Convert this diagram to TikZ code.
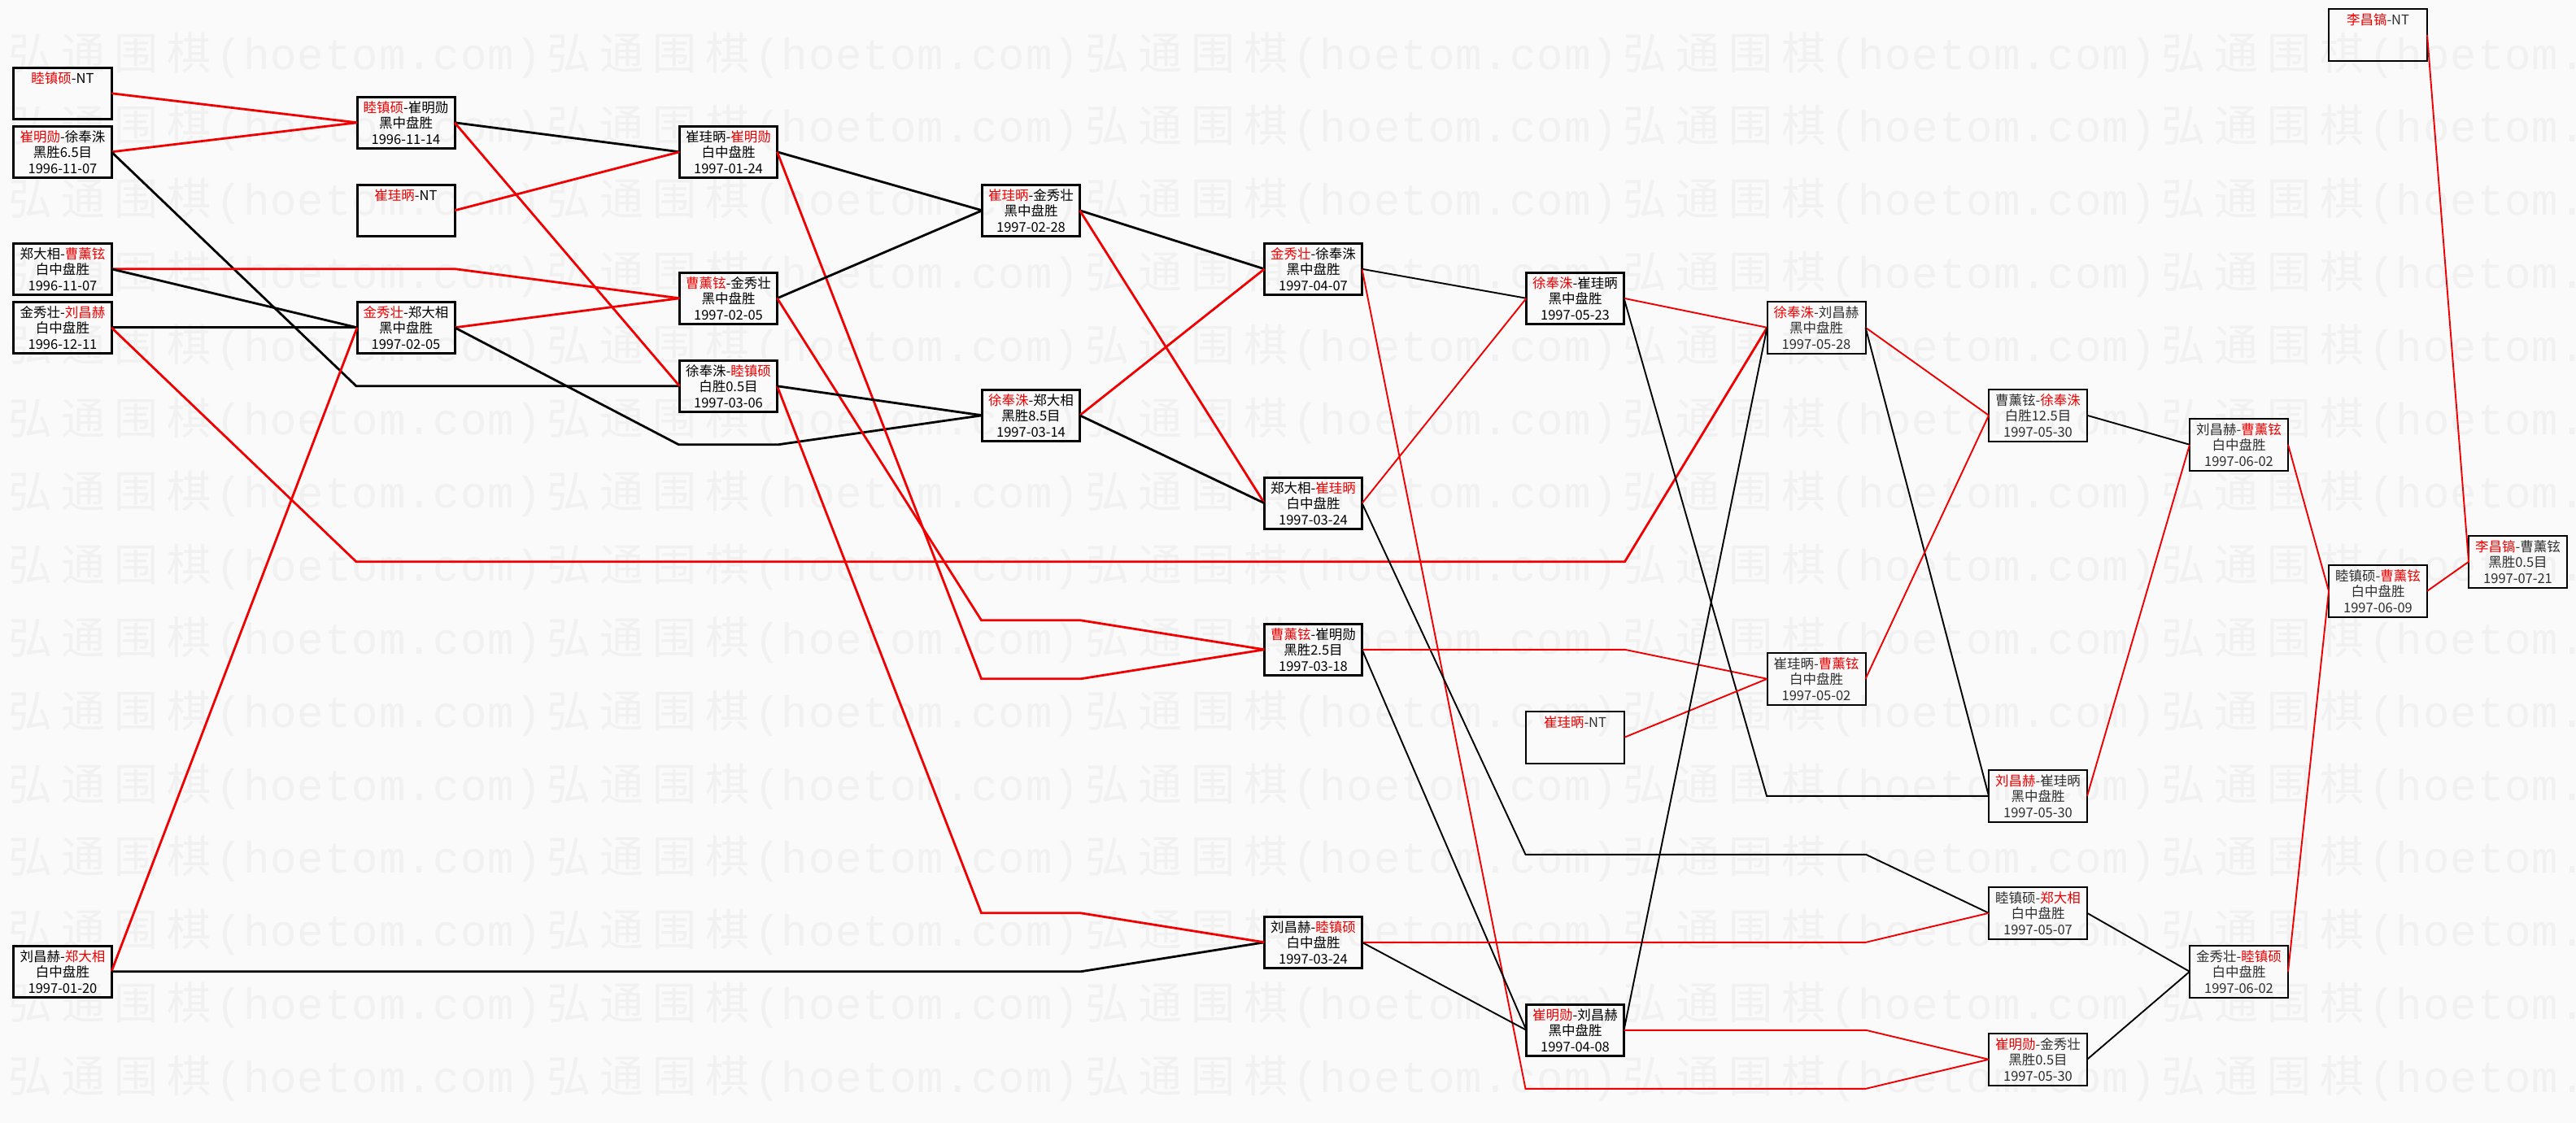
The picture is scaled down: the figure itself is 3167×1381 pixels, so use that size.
\documentclass[tikz,border=0pt]{standalone}
\usepackage{fontspec}
\setmainfont{Noto Sans CJK SC}
\newfontfamily\wmcjk{Noto Sans CJK SC}
\newfontfamily\wmlat{Liberation Mono}
\definecolor{bgc}{RGB}{250,250,250}
\definecolor{wmc}{RGB}{241,241,241}
\definecolor{win}{RGB}{240,0,0}
\newcommand\W[1]{\textcolor{win}{#1}}
\newcommand\mt[3]{\parbox[c][53bp][t]{118bp}{\centering\fontsize{16.5bp}{19.5bp}\selectfont #1\\#2\\#3}}
\newcommand\nt[1]{\parbox[c][53bp][t]{118bp}{\centering\fontsize{16.5bp}{19.5bp}\selectfont #1}}
\newcommand\wc[1]{\makebox[65bp][c]{\wmcjk\fontsize{54bp}{60bp}\selectfont #1}}
\newcommand\wl[1]{\makebox[33.4bp][c]{\wmlat\fontsize{54bp}{60bp}\selectfont #1}}
\newcommand\wmtile{\wc{弘}\wc{通}\wc{围}\wc{棋}\wl{(}\wl{h}\wl{o}\wl{e}\wl{t}\wl{o}\wl{m}\wl{.}\wl{c}\wl{o}\wl{m}\wl{)}}
\tikzset{
  wmark/.style={anchor=west, inner sep=0pt, text=wmc},
  mbox/.style={draw, line width=3bp, minimum width=120bp, minimum height=62.5bp, inner sep=0pt, outer sep=0pt},
  mboxt/.style={draw, line width=2bp, minimum width=121bp, minimum height=63.5bp, inner sep=0pt, outer sep=0pt, text=black!82},
  rl/.style={draw=win, line width=2.8bp},
  bl/.style={draw=black, line width=2.8bp},
  rlt/.style={draw=win, line width=1.9bp},
  blt/.style={draw=black, line width=1.9bp}
}
\begin{document}
\begin{tikzpicture}[x=1bp,y=-1bp]
\useasboundingbox (0,0) rectangle (3167,1381);
\fill[bgc] (0,0) rectangle (3167,1381);
\begin{scope}
\clip (0,0) rectangle (3167,1381);
\foreach \k in {0,...,14}{
  \foreach \j in {0,...,4}{
    \node[wmark] (wm-\j-\k) at ({5+661.7*\j},{68+89.9*\k}) {\wmtile};
  }
}
\end{scope}
% column 1
\node[mbox] (a1) at (77,114.8) {\nt{\W{睦镇硕}-NT}};
\node[mbox] (a2) at (77,186.8) {\mt{\W{崔明勋}-徐奉洙}{黑胜6.5目}{1996-11-07}};
\node[mbox] (a3) at (77,330.8) {\mt{郑大相-\W{曹薰铉}}{白中盘胜}{1996-11-07}};
\node[mbox] (a4) at (77,402.8) {\mt{金秀壮-\W{刘昌赫}}{白中盘胜}{1996-12-11}};
\node[mbox] (a5) at (77,1194.8) {\mt{刘昌赫-\W{郑大相}}{白中盘胜}{1997-01-20}};
% column 2
\node[mbox] (b1) at (499,150.8) {\mt{\W{睦镇硕}-崔明勋}{黑中盘胜}{1996-11-14}};
\node[mbox] (b2) at (499,258.8) {\nt{\W{崔珪昞}-NT}};
\node[mbox] (b3) at (499,402.8) {\mt{\W{金秀壮}-郑大相}{黑中盘胜}{1997-02-05}};
% column 3
\node[mbox] (c1n) at (895.5,186.8) {\mt{崔珪昞-\W{崔明勋}}{白中盘胜}{1997-01-24}};
\node[mbox] (c2n) at (895.5,366.8) {\mt{\W{曹薰铉}-金秀壮}{黑中盘胜}{1997-02-05}};
\node[mbox] (c3n) at (895.5,474.8) {\mt{徐奉洙-\W{睦镇硕}}{白胜0.5目}{1997-03-06}};
% column 4
\node[mbox] (d1) at (1267.5,258.8) {\mt{\W{崔珪昞}-金秀壮}{黑中盘胜}{1997-02-28}};
\node[mbox] (d2) at (1267.5,510.8) {\mt{\W{徐奉洙}-郑大相}{黑胜8.5目}{1997-03-14}};
% column 5
\node[mbox] (e1) at (1614.5,330.8) {\mt{\W{金秀壮}-徐奉洙}{黑中盘胜}{1997-04-07}};
\node[mbox] (e2) at (1614.5,618.8) {\mt{郑大相-\W{崔珪昞}}{白中盘胜}{1997-03-24}};
\node[mbox] (e3) at (1614.5,798.8) {\mt{\W{曹薰铉}-崔明勋}{黑胜2.5目}{1997-03-18}};
\node[mbox] (e4) at (1614.5,1158.8) {\mt{刘昌赫-\W{睦镇硕}}{白中盘胜}{1997-03-24}};
% column 6
\node[mbox] (f1) at (1936.5,366.8) {\mt{\W{徐奉洙}-崔珪昞}{黑中盘胜}{1997-05-23}};
\node[mboxt] (f2) at (1936.5,906.8) {\nt{\W{崔珪昞}-NT}};
\node[mbox] (f3) at (1936.5,1266.8) {\mt{\W{崔明勋}-刘昌赫}{黑中盘胜}{1997-04-08}};
% column 7
\node[mboxt] (g1) at (2233,402.8) {\mt{\W{徐奉洙}-刘昌赫}{黑中盘胜}{1997-05-28}};
\node[mboxt] (g2) at (2233,834.8) {\mt{崔珪昞-\W{曹薰铉}}{白中盘胜}{1997-05-02}};
% column 8
\node[mboxt] (h1) at (2505.5,510.8) {\mt{曹薰铉-\W{徐奉洙}}{白胜12.5目}{1997-05-30}};
\node[mboxt] (h2) at (2505.5,978.8) {\mt{\W{刘昌赫}-崔珪昞}{黑中盘胜}{1997-05-30}};
\node[mboxt] (h3) at (2505.5,1122.8) {\mt{睦镇硕-\W{郑大相}}{白中盘胜}{1997-05-07}};
\node[mboxt] (h4) at (2505.5,1302.8) {\mt{\W{崔明勋}-金秀壮}{黑胜0.5目}{1997-05-30}};
% column 9
\node[mboxt] (i1) at (2752.5,546.8) {\mt{刘昌赫-\W{曹薰铉}}{白中盘胜}{1997-06-02}};
\node[mboxt] (i2) at (2752.5,1194.8) {\mt{金秀壮-\W{睦镇硕}}{白中盘胜}{1997-06-02}};
% column 10
\node[mboxt] (j1) at (2923.5,42.8) {\nt{\W{李昌镐}-NT}};
\node[mboxt] (j2) at (2923.5,726.8) {\mt{睦镇硕-\W{曹薰铉}}{白中盘胜}{1997-06-09}};
% column 11
\node[mboxt] (k1) at (3095.5,690.8) {\mt{\W{李昌镐}-曹薰铉}{黑胜0.5目}{1997-07-21}};
% connectors
\draw[rl] (a1.east) -- (b1.west);
\draw[rl] (a2.east) -- (b1.west);
\draw[bl] (a2.east) -- (438,474.8) -- (c3n.west);
\draw[rl] (a3.east) -- (560,330.8) -- (c2n.west);
\draw[bl] (a3.east) -- (b3.west);
\draw[bl] (a4.east) -- (b3.west);
\draw[rl] (a4.east) -- (438,690.8) -- (1997.5,690.8) -- (g1.west);
\draw[rl] (a5.east) -- (b3.west);
\draw[bl] (a5.east) -- (1328.5,1194.8) -- (e4.west);
\draw[bl] (b1.east) -- (c1n.west);
\draw[rl] (b1.east) -- (c3n.west);
\draw[rl] (b2.east) -- (c1n.west);
\draw[rl] (b3.east) -- (c2n.west);
\draw[bl] (b3.east) -- (834.5,546.8) -- (956.5,546.8) -- (d2.west);
\draw[bl] (c1n.east) -- (d1.west);
\draw[rl] (c1n.east) -- (1206.5,834.8) -- (1328.5,834.8) -- (e3.west);
\draw[bl] (c2n.east) -- (d1.west);
\draw[rl] (c2n.east) -- (1206.5,762.8) -- (1328.5,762.8) -- (e3.west);
\draw[rl] (c3n.east) -- (1206.5,1122.8) -- (1328.5,1122.8) -- (e4.west);
\draw[bl] (c3n.east) -- (d2.west);
\draw[bl] (d1.east) -- (e1.west);
\draw[rl] (d1.east) -- (e2.west);
\draw[rl] (d2.east) -- (e1.west);
\draw[bl] (d2.east) -- (e2.west);
\draw[blt] (e1.east) -- (f1.west);
\draw[rlt] (e1.east) -- (1875.5,1338.8) -- (2294,1338.8) -- (h4.west);
\draw[rlt] (e2.east) -- (f1.west);
\draw[blt] (e2.east) -- (1875.5,1050.8) -- (2294,1050.8) -- (h3.west);
\draw[rlt] (e3.east) -- (1997.5,798.8) -- (g2.west);
\draw[blt] (e3.east) -- (f3.west);
\draw[rlt] (e4.east) -- (2294,1158.8) -- (h3.west);
\draw[blt] (e4.east) -- (f3.west);
\draw[rlt] (f1.east) -- (g1.west);
\draw[blt] (f1.east) -- (2172,978.8) -- (2294,978.8) -- (h2.west);
\draw[rlt] (f2.east) -- (g2.west);
\draw[blt] (f3.east) -- (g1.west);
\draw[rlt] (f3.east) -- (2294,1266.8) -- (h4.west);
\draw[rlt] (g1.east) -- (h1.west);
\draw[blt] (g1.east) -- (h2.west);
\draw[rlt] (g2.east) -- (h1.west);
\draw[blt] (h1.east) -- (i1.west);
\draw[rlt] (h2.east) -- (i1.west);
\draw[blt] (h3.east) -- (i2.west);
\draw[blt] (h4.east) -- (i2.west);
\draw[rlt] (i1.east) -- (j2.west);
\draw[rlt] (i2.east) -- (j2.west);
\draw[rlt] (j1.east) -- (k1.west);
\draw[rlt] (j2.east) -- (k1.west);
\end{tikzpicture}
\end{document}
